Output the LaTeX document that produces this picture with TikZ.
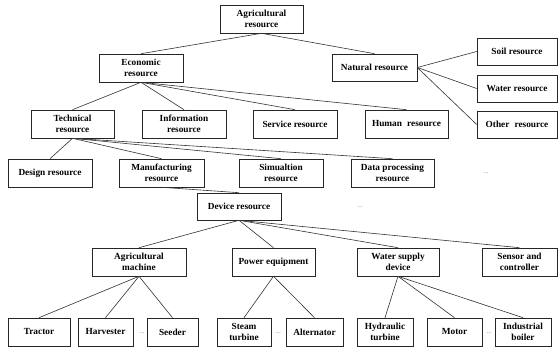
\documentclass[tikz,border=0pt]{standalone}
\usepackage{fontspec}
\setmainfont{Liberation Serif}
\begin{document}
\begin{tikzpicture}[x=1pt,y=-1pt,
  res/.style={draw=black!85, line width=0.6pt, fill=white, inner sep=1pt,
    align=center, font=\fontsize{9.3}{11.5}\selectfont\bfseries,
    minimum height=28pt},
  link/.style={draw=black!80, line width=0.6pt},
  etc/.style={font=\fontsize{6}{6}\selectfont, text=black!60, inner sep=0pt}]
\useasboundingbox[fill=white] (0,0) rectangle (558,350);

% top level
\node[res, minimum width=83pt] (agr) at (261.5,19) {Agricultural\\resource};

% second level
\node[res, minimum width=84pt] (eco) at (141,68) {Economic\\resource};
\node[res, minimum width=85pt, minimum height=27pt] (nat) at (374.5,67.5) {Natural resource};

% natural resource branches
\node[res, minimum width=80pt, minimum height=27pt] (soil) at (517,51.5) {Soil resource};
\node[res, minimum width=80pt, minimum height=27pt] (water) at (517,88.5) {Water resource};
\node[res, minimum width=80pt, minimum height=27pt] (other) at (517,124.5) {Other\hspace{0.3em} resource};

% economic resource branches
\node[res, minimum width=83pt] (tech) at (72.5,124) {Technical\\resource};
\node[res, minimum width=84pt] (info) at (184,124) {Information\\resource};
\node[res, minimum width=84pt] (serv) at (295,124) {Service resource};
\node[res, minimum width=83pt] (human) at (406.5,124) {Human\hspace{0.3em} resource};

% technical resource branches
\node[res, minimum width=84pt] (design) at (50,173) {Design resource};
\node[res, minimum width=85pt] (manu) at (161.5,173) {Manufacturing\\resource};
\node[res, minimum width=84pt] (sim) at (281,173) {Simualtion\\resource};
\node[res, minimum width=83pt] (data) at (392.5,173) {Data processing\\resource};
\node[etc] (more1) at (486,173) {...};

% device resource
\node[res, minimum width=84pt, minimum height=27pt] (device) at (239,206.5) {Device resource};
\node[etc] (more2) at (360,207) {...};

% device categories
\node[res, minimum width=94pt] (agm) at (139,262) {Agricultural\\machine};
\node[res, minimum width=83pt] (power) at (273.5,262) {Power equipment};
\node[res, minimum width=82pt] (wsup) at (398,262) {Water supply\\device};
\node[res, minimum width=75pt] (sensor) at (519.5,262) {Sensor and\\controller};

% individual devices
\node[res, minimum width=62pt] (tractor) at (39,332) {Tractor};
\node[res, minimum width=55pt] (harv) at (105.5,332) {Harvester};
\node[etc] (moreA) at (142,333) {...};
\node[res, minimum width=51pt] (seeder) at (172.5,332) {Seeder};
\node[res, minimum width=54pt] (steam) at (244,332) {Steam\\turbine};
\node[etc] (moreB) at (278.5,333) {...};
\node[res, minimum width=57pt] (alt) at (314.5,332) {Alternator};
\node[res, minimum width=56pt] (hyd) at (385,332) {Hydraulic\\turbine};
\node[res, minimum width=55pt] (motor) at (454.5,332) {Motor};
\node[etc] (moreC) at (489,333) {...};
\node[res, minimum width=56pt] (boiler) at (523,332) {Industrial\\boiler};

% connectors
\draw[link] (agr.south) -- (eco.north);
\draw[link] (agr.south) -- (nat.north);
\draw[link] (nat.east) -- (soil.west);
\draw[link] (nat.east) -- (water.west);
\draw[link] (nat.east) -- (other.west);
\foreach \c in {tech,info,serv,human} \draw[link] (eco.south) -- (\c.north);
\foreach \c in {design,manu,sim,data} \draw[link] (tech.south) -- (\c.north);
\draw[link] (manu.south) -- (device.north);
\foreach \c in {agm,power,wsup,sensor} \draw[link] (device.south) -- (\c.north);
\foreach \c in {tractor,harv,seeder} \draw[link] (agm.south) -- (\c.north);
\foreach \c in {steam,alt} \draw[link] (power.south) -- (\c.north);
\foreach \c in {hyd,motor,boiler} \draw[link] (wsup.south) -- (\c.north);
\end{tikzpicture}
\end{document}
